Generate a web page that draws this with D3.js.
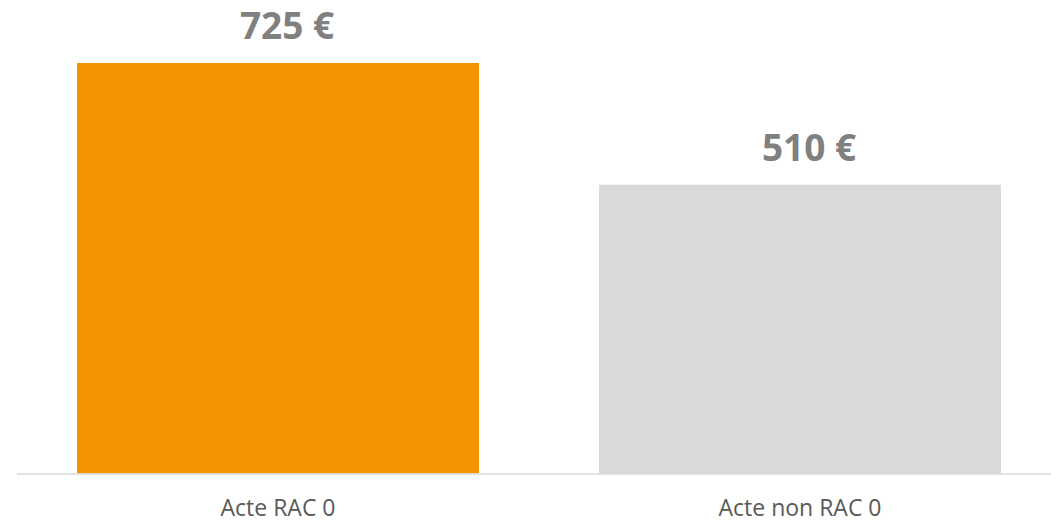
<!DOCTYPE html>
<html><head><meta charset="utf-8">
<script src="https://cdn.jsdelivr.net/npm/d3@7"></script>
<style>html,body{margin:0;padding:0;background:#fff;}svg{display:block;}</style>
</head><body>
<script>
const categories = ["Acte RAC 0", "Acte non RAC 0"];
const values = [725, 510];
const colors = ["#F29400", "#D9D9D9"];
const valueLabels = ["725 €", "510 €"];

const W = 1051, H = 523;
const svg = d3.select("body").append("svg").attr("width", W).attr("height", H);

const x = d3.scaleBand().domain(categories).range([17, 1061]).paddingInner(0.23).paddingOuter(0.115);
const y = d3.scaleLinear().domain([0, 725]).range([473.5, 63]);

svg.selectAll("rect.bar").data(values).join("rect")
  .attr("class", "bar")
  .attr("x", (d, i) => x(categories[i]))
  .attr("width", x.bandwidth())
  .attr("y", d => y(d))
  .attr("height", d => y(0) - y(d))
  .attr("fill", (d, i) => colors[i]);

svg.append("line")
  .attr("x1", 17).attr("x2", W)
  .attr("y1", y(0) + 0.5).attr("y2", y(0) + 0.5)
  .attr("stroke", "#D9D9D9").attr("stroke-width", 1.5);

svg.selectAll("text.val").data(values).join("text")
  .attr("class", "val")
  .attr("x", (d, i) => x(categories[i]) + x.bandwidth() / 2 + 9)
  .attr("y", d => y(d) - 24)
  .attr("text-anchor", "middle")
  .attr("font-family", "'Open Sans', sans-serif")
  .attr("font-weight", "bold")
  .attr("font-size", 37)
  .attr("fill", "#808080")
  .text((d, i) => valueLabels[i]);

svg.selectAll("text.cat").data(categories).join("text")
  .attr("class", "cat")
  .attr("x", d => x(d) + x.bandwidth() / 2)
  .attr("y", 516)
  .attr("text-anchor", "middle")
  .attr("font-family", "'Open Sans', sans-serif")
  .attr("font-size", 23)
  .attr("fill", "#595959")
  .text(d => d);
</script>
</body></html>
